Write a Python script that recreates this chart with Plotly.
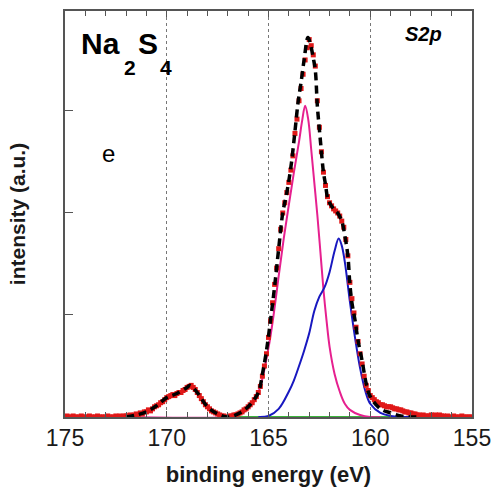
import numpy as np
import plotly.graph_objects as go

# ---- measured S 2p spectrum (binding energy in eV, 0.1 eV steps from 175 to 155) ----
energy = np.round(np.arange(175.0, 154.95, -0.1), 1)
counts = [
    0.00, 0.01, 0.00, 0.00, 0.01, 0.00, 0.00, 0.00, 0.01, 0.00,
    0.00, 0.00, 0.01, 0.00, 0.00, 0.00, 0.01, 0.00, 0.00, 0.00,
    0.00, 0.01, 0.00, 0.00, 0.00, 0.01, 0.00, 0.01, 0.00, 0.01,
    0.01, 0.01, 0.02, 0.01, 0.02, 0.03, 0.02, 0.04, 0.03, 0.05,
    0.05, 0.07, 0.06, 0.08, 0.10, 0.11, 0.12, 0.14, 0.15, 0.17,
    0.19, 0.20, 0.21, 0.22, 0.21, 0.23, 0.24, 0.24, 0.26, 0.27,
    0.29, 0.30, 0.31, 0.29, 0.27, 0.24, 0.21, 0.18, 0.15, 0.12,
    0.10, 0.08, 0.06, 0.05, 0.04, 0.03, 0.02, 0.01, 0.01, 0.00,
    0.00, 0.01, 0.01, 0.02, 0.02, 0.03, 0.04, 0.05, 0.07, 0.08,
    0.10, 0.12, 0.14, 0.17, 0.20, 0.24, 0.30, 0.40, 0.50, 0.62,
    0.78, 0.94, 1.12, 1.30, 1.46, 1.65, 1.84, 2.00, 2.10, 2.20,
    2.30, 2.42, 2.56, 2.78, 2.92, 3.10, 3.22, 3.36, 3.50, 3.62,
    3.70, 3.64, 3.55, 3.44, 3.10, 2.84, 2.60, 2.40, 2.27, 2.16,
    2.10, 2.07, 2.04, 2.02, 2.00, 1.97, 1.92, 1.86, 1.74, 1.58,
    1.32, 1.16, 1.02, 0.88, 0.74, 0.62, 0.52, 0.40, 0.31, 0.26,
    0.21, 0.19, 0.17, 0.15, 0.14, 0.12, 0.12, 0.11, 0.10, 0.10,
    0.10, 0.09, 0.08, 0.08, 0.07, 0.07, 0.06, 0.05, 0.05, 0.04,
    0.04, 0.03, 0.03, 0.02, 0.02, 0.01, 0.02, 0.01, 0.01, 0.01,
    0.02, 0.01, 0.02, 0.01, 0.02, 0.01, 0.01, 0.00, 0.01, 0.00,
    0.00, 0.01, 0.00, 0.00, 0.00, 0.01, 0.00, 0.00, 0.00, 0.00,
    0.00,
]

# ---- fitted envelope ----
fit_energy = [172.0, 171.5, 171.0, 170.5, 170.0, 169.5, 169.0, 168.85, 168.5, 168.0,
              167.5, 167.0, 166.5, 166.0, 165.5, 165.3, 165.1, 164.9, 164.7, 164.5,
              164.3, 164.1, 163.9, 163.7, 163.55, 163.4, 163.25, 163.06, 162.9, 162.8,
              162.7, 162.6, 162.5, 162.4, 162.3, 162.2, 162.1, 162.0, 161.8, 161.6,
              161.4, 161.25, 161.1, 161.0, 160.9, 160.75, 160.6, 160.4, 160.2, 160.0,
              159.5, 159.0, 158.5, 158.0, 157.5]
fit_total = [0.00, 0.02, 0.05, 0.11, 0.19, 0.23, 0.29, 0.31, 0.24, 0.10,
             0.03, 0.00, 0.03, 0.10, 0.24, 0.42, 0.65, 0.95, 1.28, 1.65,
             2.00, 2.20, 2.45, 2.80, 3.08, 3.28, 3.50, 3.72, 3.62, 3.52,
             3.40, 3.05, 2.82, 2.60, 2.40, 2.28, 2.15, 2.10, 2.04, 2.00,
             1.92, 1.78, 1.58, 1.30, 1.12, 0.95, 0.75, 0.55, 0.33, 0.20,
             0.08, 0.04, 0.01, 0.00, 0.00]

# ---- fit components ----
green_energy = [172.0, 171.5, 171.0, 170.5, 170.0, 169.5, 169.0, 168.85, 168.5, 168.0,
                167.5, 167.0, 166.5, 165.0, 160.0, 155.0]
green_y = [0.00, 0.02, 0.05, 0.11, 0.18, 0.23, 0.29, 0.30, 0.24, 0.10,
           0.03, 0.00, 0.00, 0.00, 0.00, 0.00]

magenta_energy = [172.0, 167.0, 166.5, 166.0, 165.5, 165.0, 164.75, 164.5, 164.25, 164.0,
                  163.75, 163.5, 163.35, 163.2, 163.05, 162.9, 162.75, 162.6, 162.45, 162.3,
                  162.15, 162.0, 161.75, 161.5, 161.25, 161.0, 160.5, 160.0, 159.5]
magenta_y = [0.00, 0.00, 0.02, 0.08, 0.24, 0.68, 1.00, 1.38, 1.75, 2.08,
             2.40, 2.70, 2.90, 3.05, 2.92, 2.62, 2.30, 1.98, 1.62, 1.25,
             0.95, 0.69, 0.42, 0.25, 0.13, 0.07, 0.02, 0.00, 0.00]

blue_energy = [165.5, 165.0, 164.5, 164.0, 163.75, 163.5, 163.25, 163.0, 162.75, 162.5,
               162.25, 162.0, 161.75, 161.55, 161.4, 161.25, 161.0, 160.75, 160.5, 160.25,
               160.0, 159.5, 159.0, 158.5, 158.0]
blue_y = [0.00, 0.01, 0.08, 0.25, 0.36, 0.50, 0.65, 0.82, 1.04, 1.18,
          1.27, 1.42, 1.63, 1.75, 1.68, 1.52, 1.13, 0.78, 0.48, 0.26,
          0.13, 0.04, 0.01, 0.00, 0.00]

x_ticks = [175, 170, 165, 160, 155]
y_ticks = [1, 2, 3]

FRAME = "#555555"
FONT = "Liberation Sans, Arial, sans-serif"
TEXT = "#1a1a1a"

fig = go.Figure()
fig.add_trace(go.Scatter(x=green_energy, y=green_y, mode="lines",
                         line=dict(color="#3cb43c", width=2, shape="spline")))
fig.add_trace(go.Scatter(x=magenta_energy, y=magenta_y, mode="lines",
                         line=dict(color="#e6208f", width=2, shape="spline")))
fig.add_trace(go.Scatter(x=blue_energy, y=blue_y, mode="lines",
                         line=dict(color="#1818c0", width=2, shape="spline")))
fig.add_trace(go.Scatter(x=energy, y=counts, mode="markers",
                         marker=dict(symbol="square", size=5, color="#e01818", line=dict(width=0))))
fig.add_trace(go.Scatter(x=fit_energy, y=fit_total, mode="lines",
                         line=dict(color="black", width=3.5, dash="8px,5px", shape="spline")))

# compound label, with large lowered subscripts
formula_parts = [
    ("Na", 0.087, 0.920, 30),
    ("2", 0.160, 0.862, 21),
    ("S", 0.204, 0.920, 30),
    ("4", 0.248, 0.860, 21),
]
for txt, px, py, size in formula_parts:
    fig.add_annotation(xref="paper", yref="paper", x=px, y=py, xanchor="center", yanchor="middle",
                       text=f"<b>{txt}</b>", showarrow=False,
                       font=dict(family=FONT, size=size, color="black"))

fig.add_annotation(xref="paper", yref="paper", x=0.882, y=0.943, xanchor="center", yanchor="middle",
                   text="<b><i>S2p</i></b>", showarrow=False,
                   font=dict(family=FONT, size=20, color="black"))
fig.add_annotation(xref="paper", yref="paper", x=0.108, y=0.648, xanchor="center", yanchor="middle",
                   text="e", showarrow=False,
                   font=dict(family=FONT, size=24, color="black"))

fig.update_layout(
    width=494, height=495,
    margin=dict(l=65, r=22, t=11, b=78, autoexpand=False),
    paper_bgcolor="white", plot_bgcolor="white",
    showlegend=False,
    font=dict(family=FONT, color=TEXT),
)
fig.update_xaxes(
    automargin=False,
    range=[175, 155], tickvals=x_ticks, ticktext=[str(v) for v in x_ticks],
    ticks="inside", ticklen=6, tickwidth=1, tickcolor=FRAME,
    minor=dict(dtick=1, ticks="inside", ticklen=5, tickcolor=FRAME, showgrid=False),
    showline=True, linecolor=FRAME, linewidth=1.5, mirror="ticks",
    showgrid=True, gridcolor="#777777", griddash="dot", gridwidth=1,
    zeroline=False, tickfont=dict(size=23, color=TEXT),
    title=dict(text="<b>binding energy (eV)</b>", font=dict(size=22, color=TEXT), standoff=16),
)
fig.update_yaxes(
    automargin=False,
    range=[0, 3.98], tickvals=y_ticks, showticklabels=False,
    ticks="inside", ticklen=8, tickwidth=1, tickcolor=FRAME,
    showline=True, linecolor=FRAME, linewidth=1.5, mirror=True,
    showgrid=False, zeroline=False,
    title=dict(text="<b>intensity (a.u.)</b>", font=dict(size=21, color=TEXT), standoff=32),
)

fig.write_html("out.html")
